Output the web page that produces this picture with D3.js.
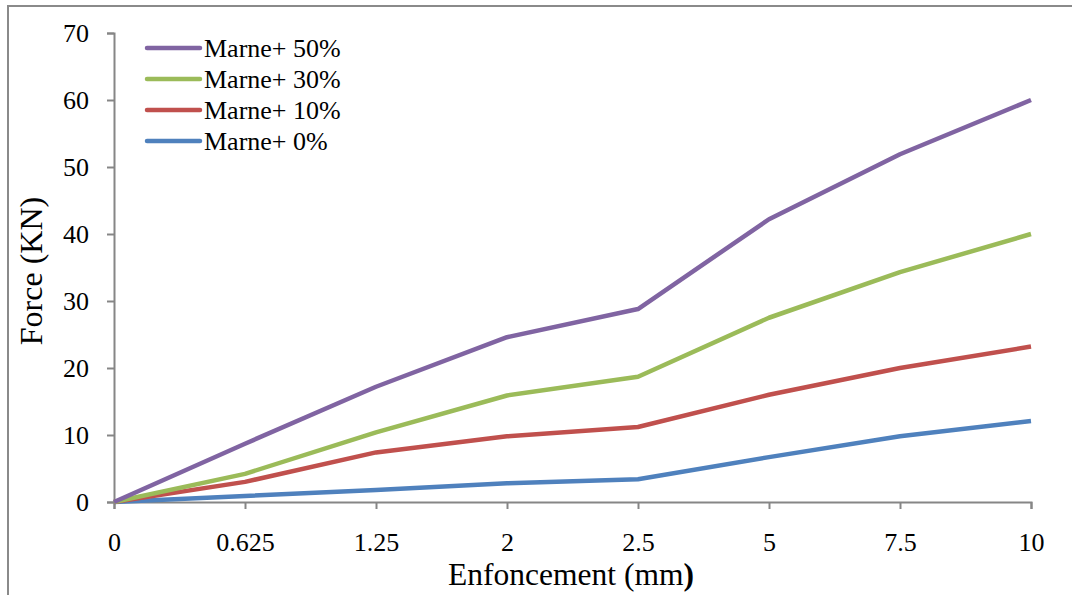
<!DOCTYPE html>
<html>
<head>
<meta charset="utf-8">
<script src="https://cdn.jsdelivr.net/npm/d3@7/dist/d3.min.js"></script>
<style>
  html, body { margin: 0; padding: 0; background: #fff; }
  svg { display: block; }
  svg text { font-family: "Liberation Serif", "Times New Roman", serif; fill: #000; }
</style>
</head>
<body>
<svg id="chart" width="1072" height="595"></svg>
<script>
// Penetration (mm) categories along the x axis
const enfoncement = ["0", "0.625", "1.25", "2", "2.5", "5", "7.5", "10"];

// Force (KN) for each marl mixture
const marne50 = [0, 8.7, 17.2, 24.6, 28.8, 42.2, 51.9, 60.0];
const marne30 = [0, 4.2, 10.4, 15.9, 18.7, 27.5, 34.3, 40.0];
const marne10 = [0, 3.0, 7.4, 9.8, 11.2, 16.0, 20.0, 23.2];
const marne0  = [0, 0.9, 1.8, 2.8, 3.4, 6.7, 9.8, 12.1];

const seriesNames  = ["Marne+ 50%", "Marne+ 30%", "Marne+ 10%", "Marne+ 0%"];
const seriesColors = ["#8064A2", "#9BBB59", "#C0504D", "#4F81BD"];
const yTicks = [0, 10, 20, 30, 40, 50, 60, 70];

const series = [marne50, marne30, marne10, marne0].map((values, i) => ({
  name: seriesNames[i],
  color: seriesColors[i],
  values
}));

const serif = "Liberation Serif";
const svg = d3.select("#chart").style("font-family", serif);
const axisColor = "#868686";

// outer frame
svg.append("rect")
  .attr("x", 8).attr("y", 6)
  .attr("width", 1200).attr("height", 800)
  .attr("fill", "none")
  .attr("stroke", "#8a8a8a")
  .attr("stroke-width", 2);

const plot = { left: 114, right: 1031, top: 33, bottom: 502 };

const x = d3.scalePoint()
  .domain(enfoncement)
  .range([plot.left, plot.right])
  .padding(0);

const y = d3.scaleLinear()
  .domain([0, 70])
  .range([plot.bottom, plot.top]);

// y axis
const yAxis = svg.append("g")
  .attr("transform", `translate(${plot.left},0)`)
  .call(d3.axisLeft(y).tickValues(yTicks).tickSize(7).tickPadding(18).tickFormat(d3.format("d")));
yAxis.attr("font-family", serif);
yAxis.select(".domain").attr("stroke", axisColor).attr("stroke-width", 2);
yAxis.selectAll(".tick line").attr("stroke", axisColor).attr("stroke-width", 2);
yAxis.selectAll(".tick text")
  .style("font-family", serif)
  .attr("font-size", 26)
  .attr("fill", "#000");

// x axis
const xAxis = svg.append("g")
  .attr("transform", `translate(0,${plot.bottom})`)
  .call(d3.axisBottom(x).tickSize(7).tickPadding(24));
xAxis.attr("font-family", serif);
xAxis.select(".domain").attr("stroke", axisColor).attr("stroke-width", 2);
xAxis.selectAll(".tick line").attr("stroke", axisColor).attr("stroke-width", 2);
xAxis.selectAll(".tick text")
  .style("font-family", serif)
  .attr("font-size", 26)
  .attr("fill", "#000");

// series lines
const line = d3.line()
  .x((d, i) => x(enfoncement[i]))
  .y(d => y(d));

svg.append("g")
  .selectAll("path")
  .data(series.slice().reverse())
  .join("path")
  .attr("d", d => line(d.values))
  .attr("fill", "none")
  .attr("stroke", d => d.color)
  .attr("stroke-width", 4.5)
  .attr("stroke-linejoin", "round");

// axis titles
svg.append("text")
  .attr("transform", "translate(42,271) rotate(-90)")
  .attr("text-anchor", "middle")
  .attr("font-size", 32)
  .style("font-family", serif)
  .text("Force (KN)");

const xt = svg.append("text")
  .attr("x", 571)
  .attr("y", 585)
  .attr("text-anchor", "middle")
  .attr("font-size", 31.5)
  .style("font-family", serif);
xt.append("tspan").text("Enfoncement (mm");
xt.append("tspan").attr("font-weight", "bold").text(")");

// legend
const legend = svg.append("g")
  .selectAll("g")
  .data(series)
  .join("g")
  .attr("transform", (d, i) => `translate(147,${48 + i * 31})`);
legend.append("line")
  .attr("x1", 0).attr("x2", 53)
  .attr("stroke", d => d.color)
  .attr("stroke-width", 4.5)
  .attr("stroke-linecap", "round");
legend.append("text")
  .attr("x", 57)
  .attr("dy", "0.35em")
  .attr("font-size", 26)
  .style("font-family", serif)
  .text(d => d.name);
</script>
</body>
</html>
